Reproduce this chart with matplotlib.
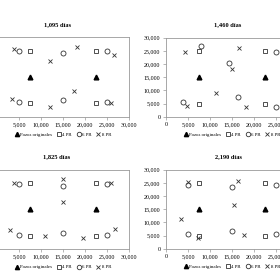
import matplotlib
matplotlib.use("Agg")
import matplotlib.pyplot as plt
from matplotlib.ticker import FuncFormatter

plt.rcParams['font.family'] = ['Liberation Serif', 'DejaVu Serif']

titles = ["1,095 días", "1,460 días", "1,825 días", "2,190 días"]

# pozos originales (same in all panels)
orig_x = [7500, 22500]
orig_y = [15000, 15000]

# 4 PR
pr4_x = [7500, 7500, 22500, 22500]
pr4_y = [25000, 5000, 25000, 5000]

# 6 PR per panel
pr6_x = [
    [5000, 15000, 25000, 5000, 15000, 25000],
    [7950, 14340, 25000, 3860, 16270, 25000],
    [5000, 15000, 25000, 5000, 15000, 25000],
    [5000, 15000, 25000, 5000, 15000, 25000],
]
pr6_y = [
    [25000, 23900, 24700, 5500, 6200, 5500],
    [26800, 20300, 24600, 5600, 7650, 3600],
    [24600, 23700, 24600, 5400, 6200, 5400],
    [24200, 23350, 24200, 5700, 6600, 5700],
]

# 8 PR per panel
pr8_x = [
    [3800, 18150, 12000, 26500, 17500, 3400, 12000, 26000],
    [4400, 16640, 14930, 11290, 4750, 18280],
    [3780, 15000, 15000, 26000, 3000, 10800, 19450, 26800],
    [5000, 16420, 15380, 3490, 7200, 17760],
]
pr8_y = [
    [25500, 26500, 20900, 23400, 9800, 6600, 3500, 5000],
    [24750, 26150, 18100, 9050, 4100, 3850],
    [25000, 26300, 17600, 25000, 7000, 5000, 4200, 7500],
    [25300, 25800, 16800, 11200, 4100, 5100],
]

W, H = 280, 280
fig = plt.figure(figsize=(2.8, 2.8), dpi=100)

# pixel boxes (left, top, width, height)
boxes = [(-3, 37.3, 132, 79.4), (166, 37.8, 132, 79.0),
         (-3, 169.6, 132, 79.4), (166, 169.8, 132, 79.0)]
title_pos = [(57, 25), (228, 25), (57, 157), (228, 157)]

fmt = FuncFormatter(lambda v, p: "{:,.0f}".format(v))
fmt_left = FuncFormatter(lambda v, p: "" if v == 0 else "{:,.0f}".format(v))

for i in range(4):
    l, t, w, h = boxes[i]
    ax = fig.add_axes([l / W, 1 - (t + h) / H, w / W, h / H])
    ax.plot(orig_x, orig_y, linestyle='none', marker='^', color='black',
            markersize=3.4, label='Pozos originales')
    ax.plot(pr4_x, pr4_y, linestyle='none', marker='s', markerfacecolor='white',
            markeredgecolor='#333333', markeredgewidth=0.6, markersize=3.4, label='4 PR')
    ax.plot(pr6_x[i], pr6_y[i], linestyle='none', marker='o', markerfacecolor='white',
            markeredgecolor='#333333', markeredgewidth=0.6, markersize=3.6, label='6 PR')
    ax.plot(pr8_x[i], pr8_y[i], linestyle='none', marker='x', color='#333333',
            markeredgewidth=0.6, markersize=3.4, label='8 PR')
    ax.set_xlim(0, 30000)
    ax.set_ylim(0, 30000)
    ax.set_xticks(range(0, 30001, 5000))
    ax.set_yticks(range(0, 30001, 5000))
    left_col = (i % 2 == 0)
    ax.xaxis.set_major_formatter(fmt_left if left_col else fmt)
    ax.yaxis.set_major_formatter(fmt)
    ax.tick_params(labelsize=4.3, length=2, width=0.5, color='#999999', pad=2)
    if left_col:
        # y labels lie outside the cropped picture
        ax.tick_params(axis='y', labelleft=False)
    for s in ax.spines.values():
        s.set_color('#999999')
        s.set_linewidth(0.6)
    ax.legend(loc='upper center', bbox_to_anchor=(0.5, -0.17), ncol=4, frameon=False,
              fontsize=3.5, handlelength=0.8, handletextpad=0.3, columnspacing=1.0,
              borderpad=0, markerscale=0.9)
    tx, ty = title_pos[i]
    fig.text(tx / W, 1 - ty / H, titles[i], ha='center', va='center',
             fontsize=4.6, fontweight='bold')

fig.savefig("out.png", dpi=100)
